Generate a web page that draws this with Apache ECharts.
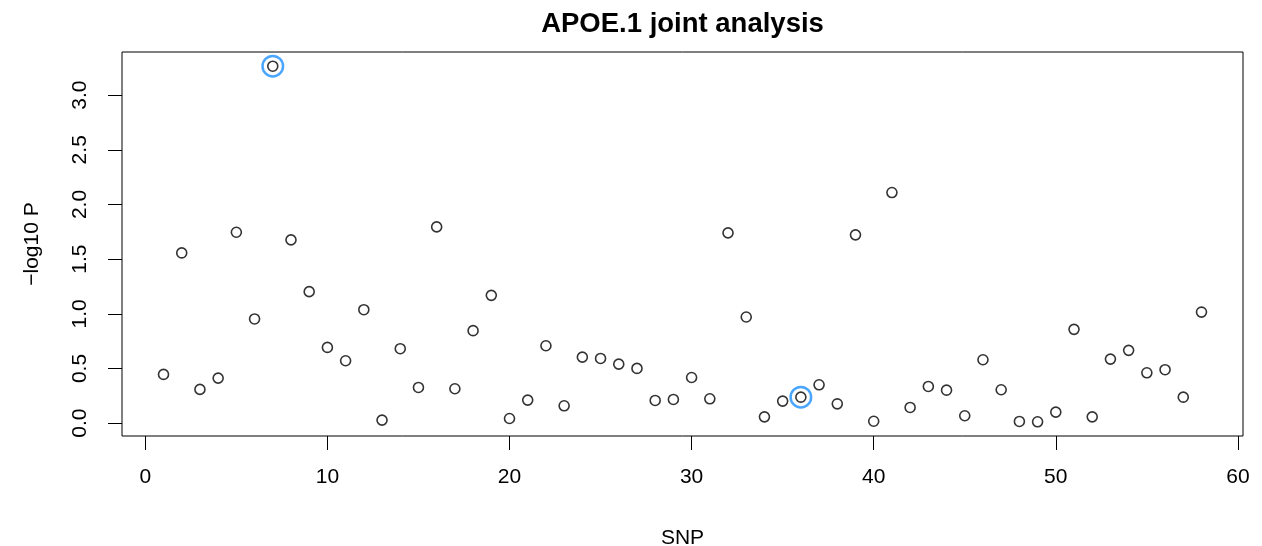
<!DOCTYPE html>
<html>
<head>
<meta charset="utf-8">
<script src="https://cdn.jsdelivr.net/npm/echarts@6/dist/echarts.min.js"></script>
<style>
html,body{margin:0;padding:0;background:#fff;}
#chart{width:1262px;height:546px;}
</style>
</head>
<body>
<div id="chart"></div>
<script>
const chartTitle = 'APOE.1 joint analysis';
const xAxisTitle = 'SNP';
const yAxisTitle = '\u2212log10 P';
const snpIndex = [1,2,3,4,5,6,7,8,9,10,11,12,13,14,15,16,17,18,19,20,21,22,23,24,25,26,27,28,29,30,31,32,33,34,35,36,37,38,39,40,41,42,43,44,45,46,47,48,49,50,51,52,53,54,55,56,57,58];
const negLog10P = [0.446,1.557,0.309,0.412,1.746,0.953,3.264,1.676,1.203,0.693,
  0.571,1.038,0.028,0.681,0.327,1.795,0.315,0.846,1.169,0.043,
  0.211,0.708,0.159,0.604,0.592,0.540,0.501,0.208,0.217,0.418,
  0.223,1.740,0.971,0.058,0.202,0.238,0.351,0.177,1.722,0.018,
  2.109,0.144,0.336,0.302,0.068,0.580,0.306,0.016,0.013,0.101,
  0.858,0.058,0.586,0.666,0.461,0.489,0.238,1.016];
const highlightedSNPs = [7, 36];
const xTicks = [0,10,20,30,40,50,60];
const yTicks = [0,0.5,1,1.5,2,2.5,3];

const FONT = "'Liberation Sans', Arial, Helvetica, sans-serif";

// R-style 4% axis extension
function ext(arr){
  const mn = Math.min(...arr), mx = Math.max(...arr), r = mx - mn;
  return [mn - 0.04*r, mx + 0.04*r];
}
const [xMin, xMax] = ext(snpIndex);
const [yMin, yMax] = ext(negLog10P);

const points = snpIndex.map((s,i)=>[s, negLog10P[i]]);
const hlPoints = highlightedSNPs.map(s=>[s, negLog10P[snpIndex.indexOf(s)]]);

const gridLeft = 122, gridRight = 19, gridTop = 52, gridBottom = 110;
const W = 1262;

const chart = echarts.init(document.getElementById('chart'), null, {renderer:'canvas'});
chart.setOption({
  animation: false,
  backgroundColor: '#fff',
  textStyle: {fontFamily: FONT},
  grid: {left: gridLeft, right: gridRight, top: gridTop, bottom: gridBottom,
         containLabel: false, outerBoundsMode: 'none',
         show: true, borderColor: '#000', borderWidth: 1, backgroundColor: 'transparent'},
  graphic: [{
    type: 'text',
    x: gridLeft + (W - gridLeft - gridRight)/2,
    y: 24,
    style: {text: chartTitle, fill: '#000', font: "bold 27.5px " + FONT,
            align: 'center', verticalAlign: 'middle'}
  }],
  xAxis: {
    type: 'value', min: xMin, max: xMax,
    name: xAxisTitle, nameLocation: 'middle', nameGap: 92,
    nameTextStyle: {color: '#000', fontSize: 21, fontFamily: FONT},
    axisLine: {show: false, onZero: false},
    axisTick: {show: true, inside: false, length: 14, customValues: xTicks, lineStyle: {color: '#000', width: 1}},
    axisLabel: {customValues: xTicks, color: '#000', fontSize: 21, fontFamily: FONT, margin: 31},
    splitLine: {show: false}
  },
  yAxis: {
    type: 'value', min: yMin, max: yMax,
    name: yAxisTitle, nameLocation: 'middle', nameGap: 79,
    nameTextStyle: {color: '#000', fontSize: 21, fontFamily: FONT},
    axisLine: {show: false, onZero: false},
    axisTick: {show: true, inside: false, length: 14, customValues: yTicks, lineStyle: {color: '#000', width: 1}},
    axisLabel: {customValues: yTicks, color: '#000', fontSize: 21, fontFamily: FONT, margin: 31,
                rotate: 90, formatter: v => Number(v).toFixed(1)},
    splitLine: {show: false}
  },
  series: [
    {
      type: 'scatter', data: points, symbol: 'circle', symbolSize: 10,
      itemStyle: {color: 'rgba(0,0,0,0)', borderColor: '#000', borderWidth: 1.6},
      emphasis: {disabled: true}, silent: true
    },
    {
      type: 'scatter', data: hlPoints, symbol: 'circle', symbolSize: 20.5,
      itemStyle: {color: 'rgba(0,0,0,0)', borderColor: '#1E90FF', borderWidth: 2.5},
      emphasis: {disabled: true}, silent: true
    }
  ]
});
</script>
</body>
</html>
